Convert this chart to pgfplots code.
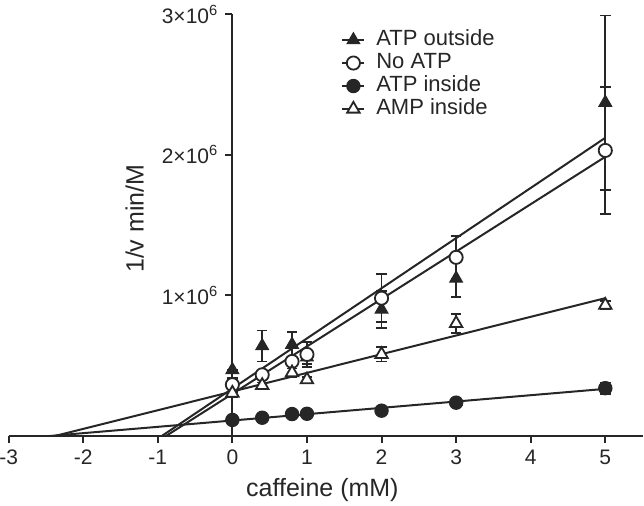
\documentclass[border=0pt]{standalone}
\usepackage{fontspec}
\setmainfont{Liberation Sans}
\usepackage{pgfplots}
\usepackage{pgfplotstable}
\pgfplotsset{compat=1.18}

\pgfplotstableread{
x y e
0 0.47 0
0.4 0.64 0.11
0.8 0.65 0.09
1 0.56 0.05
2 0.90 0.13
3 1.12 0.13
5 2.37 0.62
}\atpout
\pgfplotstableread{
x y e
0 0.365 0.05
0.4 0.435 0.03
0.8 0.53 0.03
1 0.58 0.09
2 0.98 0.17
3 1.27 0.15
5 2.03 0.45
}\noatp
\pgfplotstableread{
x y e
0 0.114 0.01
0.4 0.13 0.01
0.8 0.156 0.01
1 0.158 0.01
2 0.18 0.02
3 0.237 0.03
5 0.34 0.04
}\atpin
\pgfplotstableread{
x y e
0 0.305 0.03
0.4 0.36 0.02
0.8 0.45 0.03
1 0.40 0.02
2 0.58 0.05
3 0.80 0.07
5 0.93 0.03
}\ampin

\begin{document}
\begin{tikzpicture}
\begin{axis}[
  name=ax,
  scale only axis,
  width=317pt, height=211pt,
  axis lines=middle,
  xmin=-3, xmax=5.5, ymin=0, ymax=3,
  clip=false,
  hide obscured x ticks=false,
  hide obscured y ticks=false,
  xtick={-3,-2,-1,0,1,2,3,4,5},
  xticklabels={-3,-2,-1,0,1,2,3,4,5},
  ytick={1,2,3},
  yticklabels={1×10\textsuperscript{6},2×10\textsuperscript{6},3×10\textsuperscript{6}},
  tick align=outside,
  major tick length=3.5pt,
  axis line style={-, line width=1pt, black!85},
  tick style={line width=1pt, black!85},
  tick label style={font=\fontsize{10.5}{12}\selectfont, text=black!85},
  xlabel={caffeine (mM)},
  ylabel={1/v min/M},
  label style={font=\fontsize{12.5}{15}\selectfont, text=black!85},
  x label style={at={(axis description cs:0.495,0)}, anchor=center, yshift=-27pt},
  y label style={at={(axis description cs:0.199,0.515)}, anchor=center, rotate=90},
  legend style={at={(axis description cs:0.515,0.976)}, anchor=north west, draw=none, fill=none,
    font=\fontsize{11}{13}\selectfont, row sep=0pt,
    nodes={inner sep=0.5pt, text height=8pt, text depth=2.5pt, text=black!85},
    /tikz/every odd column/.append style={column sep=5pt}},
  legend cell align=left,
  legend image code/.code={\draw[line width=0.9pt,black!85] (0pt,0pt)--(11pt,0pt); \draw[#1] plot coordinates {(5.5pt,0pt)};},
  error bars/error bar style={line width=0.9pt, black!85},
  error bars/error mark options={rotate=90, mark size=2.6pt, line width=0.9pt, black!85},
]
% regression lines
\addplot[forget plot, line width=1pt, black!85] coordinates {(-0.946,0) (5,2.12)};
\addplot[forget plot, line width=1pt, black!85] coordinates {(-0.89,0) (5,1.985)};
\addplot[forget plot, line width=1pt, black!85] coordinates {(-2.38,0) (5,0.98)};
\addplot[forget plot, line width=1pt, black!85] coordinates {(-2.45,0) (5,0.335)};
% data
\addplot[only marks, mark=triangle*, mark size=3.6pt, mark options={fill=black!85, draw=black!85, line width=0.6pt},
  error bars/.cd, y dir=both, y explicit] table[x=x, y=y, y error=e] {\atpout};
\addlegendentry{ATP outside}
\addplot[only marks, mark=*, mark size=3.3pt, mark options={fill=white, draw=black!85, line width=0.9pt},
  error bars/.cd, y dir=both, y explicit] table[x=x, y=y, y error=e] {\noatp};
\addlegendentry{No ATP}
\addplot[only marks, mark=*, mark size=3.3pt, mark options={fill=black!85, draw=black!85, line width=0.6pt},
  error bars/.cd, y dir=both, y explicit] table[x=x, y=y, y error=e] {\atpin};
\addlegendentry{ATP inside}
\addplot[only marks, mark=triangle*, mark size=3.6pt, mark options={fill=white, draw=black!85, line width=0.9pt},
  error bars/.cd, y dir=both, y explicit] table[x=x, y=y, y error=e] {\ampin};
\addlegendentry{AMP inside}
\end{axis}
\pgfresetboundingbox
\path[use as bounding box] (ax.south west) ++(-4.3pt,-34.5pt) rectangle ++(322pt,252.5pt);
\end{tikzpicture}
\end{document}
